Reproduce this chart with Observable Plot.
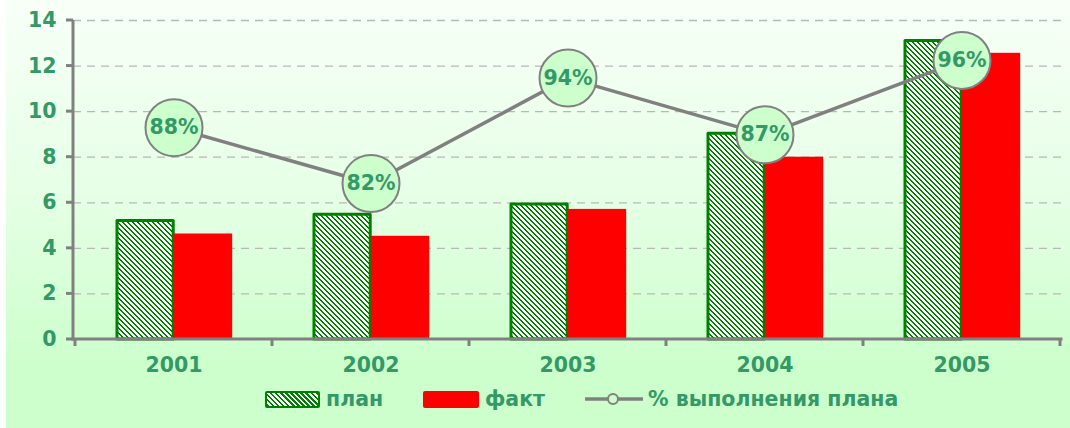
<!DOCTYPE html>
<html>
<head>
<meta charset="utf-8">
<script src="https://cdn.jsdelivr.net/npm/d3@7"></script>
<script src="https://cdn.jsdelivr.net/npm/@observablehq/plot@0.6"></script>
<style>
  html, body { margin: 0; padding: 0; background: #ffffff; width: 1070px; height: 428px; overflow: hidden; }
  #bg { position: absolute; left: 6px; top: 0; width: 1064px; height: 428px;
        background: linear-gradient(to bottom, #f8fff8 0%, #e6ffe6 45%, #ccffcc 85%, #ccffcc 100%); }
  #chart { position: absolute; left: 0; top: 0; }
  .lg { position: absolute; font-family: "DejaVu Sans", Verdana, sans-serif; font-weight: bold;
        font-size: 20.5px; color: #339966; line-height: 22px; white-space: nowrap; }
  .sw { position: absolute; box-sizing: border-box; }
</style>
</head>
<body>
<div id="bg"></div>
<div id="chart"></div>
<div id="legend"></div>
<script>
// ---- data ----
const years = ["2001", "2002", "2003", "2004", "2005"];
const plan = [5.2, 5.47, 5.93, 9.03, 13.1];
const fact = [4.63, 4.53, 5.71, 8.0, 12.56];
const pct = [87.9, 81.6, 93.5, 87.1, 95.5];          // % выполнения плана (secondary, hidden axis)
const yTicks = [0, 2, 4, 6, 8, 10, 12, 14];
const pctAxisDomain = [64, 100];                      // hidden secondary axis range
const legendLabels = ["план", "факт", "% выполнения плана"];

const textColor = "#339966";
const font = "DejaVu Sans, Verdana, sans-serif";
const fs = 20.5;

const rows = years.map((y, i) => ({year: y, plan: plan[i], fact: fact[i], pct: pct[i]}));
const pctToLeft = d3.scaleLinear().domain(pctAxisDomain).range([yTicks[0], yTicks[yTicks.length - 1]]);

// axis lines and tick marks drawn from the plot's scales
function axesMark(index, scales, values, dims) {
  const {width, height, marginLeft, marginRight, marginBottom} = dims;
  const x0 = marginLeft, x1 = width - marginRight, y0 = height - marginBottom;
  const g = d3.create("svg:g")
    .attr("stroke", "#808080").attr("stroke-width", 3).attr("fill", "none");
  const ytop = scales.y(yTicks[yTicks.length - 1]);
  g.append("line").attr("x1", x0).attr("x2", x0).attr("y1", ytop).attr("y2", y0 + 1.5);
  for (const t of yTicks) {
    const yy = scales.y(t);
    g.append("line").attr("x1", x0 - 7).attr("x2", x0).attr("y1", yy).attr("y2", yy);
  }
  g.append("line").attr("x1", x0 - 1.5).attr("x2", x1 + 1.5).attr("y1", y0).attr("y2", y0);
  const bw = scales.x.bandwidth ? scales.x.bandwidth() : (x1 - x0) / years.length;
  const bounds = years.map(d => scales.x(d));
  bounds.push(scales.x(years[years.length - 1]) + bw);
  for (const b of bounds) {
    g.append("line").attr("x1", b).attr("x2", b).attr("y1", y0).attr("y2", y0 + 7);
  }
  return g.node();
}

const chart = Plot.plot({
  width: 1070,
  height: 385,
  marginLeft: 73,
  marginRight: 9,
  marginTop: 20,
  marginBottom: 46,
  style: {background: "transparent", fontFamily: font, overflow: "visible"},
  x: {type: "band", domain: years, padding: 0, axis: null},
  y: {domain: [yTicks[0], yTicks[yTicks.length - 1]], axis: null},
  marks: [
    Plot.ruleY(yTicks.filter(d => d > 0), {stroke: "#b8b8b8", strokeWidth: 1.3, strokeDasharray: "8,6"}),
    Plot.barY(rows, {x: "year", y: "plan", fill: "url(#hatch)", stroke: "#008000", strokeWidth: 3,
      strokeLinejoin: "round", insetLeft: 42, insetRight: 98.8}),
    Plot.barY(rows, {x: "year", y: "fact", fill: "#ff0000", insetLeft: 98.8, insetRight: 39.8}),
    axesMark,
    Plot.line(rows, {x: "year", y: d => pctToLeft(d.pct), stroke: "#808080", strokeWidth: 3.5}),
    Plot.dot(rows, {x: "year", y: d => pctToLeft(d.pct), r: 28.5, fill: "#ccffcc", stroke: "#808080", strokeWidth: 2}),
    Plot.text(rows, {x: "year", y: d => pctToLeft(d.pct), text: d => Math.round(d.pct) + "%",
      fontSize: fs, fontWeight: "bold", fill: textColor}),
    Plot.text(yTicks, {y: d => d, text: d => String(d), frameAnchor: "left", textAnchor: "end", dx: -17,
      fontSize: fs, fontWeight: "bold", fill: textColor}),
    Plot.text(years, {x: d => d, text: d => d, frameAnchor: "bottom", dy: 32,
      fontSize: fs, fontWeight: "bold", fill: textColor})
  ]
});

// hatch pattern for the plan bars (green diagonals on white)
const defs = d3.select(chart).insert("defs", ":first-child");
const P = 5;
const pat = defs.append("pattern").attr("id", "hatch").attr("patternUnits", "userSpaceOnUse")
  .attr("width", P).attr("height", P);
pat.append("rect").attr("width", P).attr("height", P).attr("fill", "#ffffff");
for (let i = 0; i < P; i++) {
  for (const k of [0, 1]) {
    pat.append("rect").attr("x", (i + k) % P).attr("y", i).attr("width", 1).attr("height", 1)
      .attr("fill", "#008000").attr("shape-rendering", "crispEdges");
  }
}
document.getElementById("chart").appendChild(chart);

// legend
const lg = document.getElementById("legend");
function add(el) { lg.appendChild(el); return el; }
const s1 = add(document.createElement("div"));
s1.className = "sw";
Object.assign(s1.style, {left: "265px", top: "391px", width: "55px", height: "17px", border: "2px solid #008000",
  borderRadius: "2px", background: "repeating-linear-gradient(45deg, #008000 0 1.8px, #ffffff 1.8px 3.6px)"});
const t1 = add(document.createElement("div")); t1.className = "lg"; t1.textContent = legendLabels[0];
Object.assign(t1.style, {left: "326px", top: "388px"});
const s2 = add(document.createElement("div"));
s2.className = "sw";
Object.assign(s2.style, {left: "423px", top: "391px", width: "56px", height: "17px", background: "#ff0000", borderRadius: "2px"});
const t2 = add(document.createElement("div")); t2.className = "lg"; t2.textContent = legendLabels[1];
Object.assign(t2.style, {left: "485px", top: "388px"});
const ln = add(document.createElementNS("http://www.w3.org/2000/svg", "svg"));
ln.setAttribute("width", 60); ln.setAttribute("height", 20);
Object.assign(ln.style, {position: "absolute", left: "584px", top: "389px"});
ln.innerHTML = '<line x1="1" x2="59" y1="10" y2="10" stroke="#808080" stroke-width="3.5"/>' +
  '<circle cx="29" cy="10" r="5" fill="#ccffcc" stroke="#808080" stroke-width="2"/>';
const t3 = add(document.createElement("div")); t3.className = "lg"; t3.textContent = legendLabels[2];
Object.assign(t3.style, {left: "648px", top: "388px"});
</script>
</body>
</html>
